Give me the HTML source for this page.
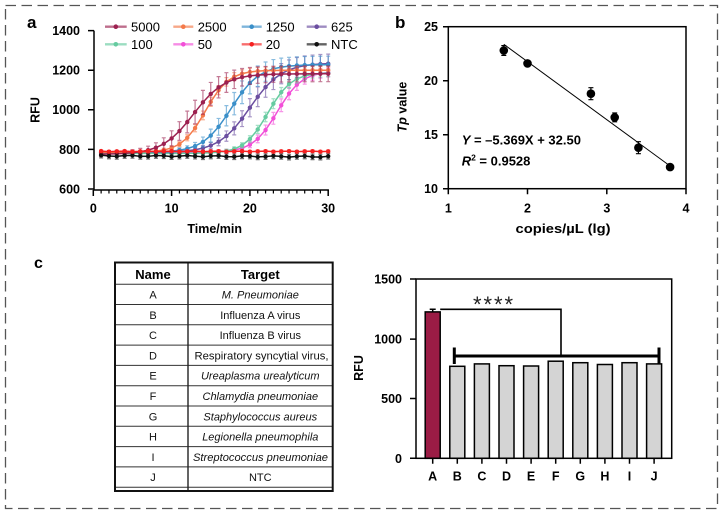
<!DOCTYPE html>
<html><head><meta charset="utf-8"><style>
html,body{margin:0;padding:0;background:#fff;}
svg{display:block;font-family:"Liberation Sans",Arial,sans-serif;}
.b{font-weight:bold;}
</style></head><body>
<svg id="s" width="725" height="514" viewBox="0 0 725 514" xmlns="http://www.w3.org/2000/svg">
<rect x="5.5" y="5.5" width="712" height="503" fill="none" stroke="#555" stroke-width="1.3" stroke-dasharray="10.5 5.5"/>

<!-- Panel a -->
<text x="27" y="28" font-size="17" class="b">a</text>
<g stroke="#000" stroke-width="1.5" fill="none">
<path d="M94 30.6V190M93.3 190H328.9"/>
<path d="M88 30.6H94M88 70.2H94M88 109.8H94M88 149.4H94M88 189H94"/>
<path d="M93.3 190v6M171.6 190v6M249.9 190v6M328.2 190v6"/>
<path stroke-width="1.2" d="M101.13 190v3.5M108.96 190v3.5M116.79 190v3.5M124.62 190v3.5M132.45 190v3.5M140.28 190v3.5M148.11 190v3.5M155.94 190v3.5M163.77 190v3.5M179.43 190v3.5M187.26 190v3.5M195.09 190v3.5M202.92 190v3.5M210.75 190v3.5M218.58 190v3.5M226.41 190v3.5M234.24 190v3.5M242.07 190v3.5M257.73 190v3.5M265.56 190v3.5M273.39 190v3.5M281.22 190v3.5M289.05 190v3.5M296.88 190v3.5M304.71 190v3.5M312.54 190v3.5M320.37 190v3.5"/>
</g>
<g font-size="12.5" class="b" text-anchor="end">
<text x="80" y="35">1400</text><text x="80" y="74.6">1200</text><text x="80" y="114.2">1000</text><text x="80" y="153.8">800</text><text x="80" y="193.4">600</text>
</g>
<g font-size="12.5" class="b" text-anchor="middle">
<text x="93.3" y="212.5">0</text><text x="171.6" y="212.5">10</text><text x="249.9" y="212.5">20</text><text x="328.2" y="212.5">30</text>
<text x="214.7" y="233">Time/min</text>
<text transform="translate(39.5 110) rotate(-90)">RFU</text>
</g>
<g id="curves"></g>
<!-- legend -->
<g stroke-width="2.4" opacity="0.65">
<line x1="105" y1="26.7" x2="126.7" y2="26.7" stroke="#9c2150"/>
<line x1="173.3" y1="26.7" x2="193.3" y2="26.7" stroke="#f47a4a"/>
<line x1="241.7" y1="26.7" x2="261.7" y2="26.7" stroke="#3a8fc9"/>
<line x1="306.7" y1="26.7" x2="326.7" y2="26.7" stroke="#6b4ea0"/>
<line x1="105" y1="44.3" x2="126.7" y2="44.3" stroke="#66cba0"/>
<line x1="173.3" y1="44.3" x2="193.3" y2="44.3" stroke="#f24fd8"/>
<line x1="241.7" y1="44.3" x2="261.7" y2="44.3" stroke="#f52020"/>
<line x1="306.7" y1="44.3" x2="326.7" y2="44.3" stroke="#111"/>
</g>
<g>
<circle cx="115.8" cy="26.7" r="2.3" fill="#9c2150"/>
<circle cx="183.3" cy="26.7" r="2.3" fill="#f47a4a"/>
<circle cx="251.7" cy="26.7" r="2.3" fill="#3a8fc9"/>
<circle cx="316.7" cy="26.7" r="2.3" fill="#6b4ea0"/>
<circle cx="115.8" cy="44.3" r="2.3" fill="#66cba0"/>
<circle cx="183.3" cy="44.3" r="2.3" fill="#f24fd8"/>
<circle cx="251.7" cy="44.3" r="2.3" fill="#f52020"/>
<circle cx="316.7" cy="44.3" r="2.3" fill="#111"/>
</g>
<g font-size="13">
<text x="131" y="31.4">5000</text><text x="197.7" y="31.4">2500</text><text x="265.7" y="31.4">1250</text><text x="331" y="31.4">625</text>
<text x="131" y="49">100</text><text x="197.7" y="49">50</text><text x="265.7" y="49">20</text><text x="331" y="49">NTC</text>
</g>

<!-- Panel b -->
<text x="395" y="28" font-size="17" class="b">b</text>
<rect x="448.3" y="26.7" width="237.7" height="162" fill="none" stroke="#000" stroke-width="1.5"/>
<g stroke="#000" stroke-width="1.5">
<path d="M443 26.7H448.3M443 80.7H448.3M443 134.7H448.3M443 188.7H448.3"/>
<path d="M448.3 188.7v5.5M527.5 188.7v5.5M606.8 188.7v5.5M686 188.7v5.5"/>
</g>
<g font-size="12.5" class="b" text-anchor="end">
<text x="438" y="31.2">25</text><text x="438" y="85.2">20</text><text x="438" y="139.2">15</text><text x="438" y="193.2">10</text>
</g>
<g font-size="12.5" class="b" text-anchor="middle">
<text x="448.3" y="212.5">1</text><text x="527.5" y="212.5">2</text><text x="606.8" y="212.5">3</text><text x="686" y="212.5">4</text>
<text x="563" y="233" textLength="95" lengthAdjust="spacingAndGlyphs">copies/µL (lg)</text>
<text transform="translate(406.5 107) rotate(-90)"><tspan font-style="italic">Tp</tspan> value</text>
</g>
<line x1="503.8" y1="44.3" x2="670.1" y2="166" stroke="#000" stroke-width="1"/>
<g stroke="#000" stroke-width="1.2" fill="none">
<path d="M503.8 45.6v9.8M501.3 45.6h5M501.3 55.4h5"/>
<path d="M527.5 61.2v4.4M525 61.2h5M525 65.6h5"/>
<path d="M590.9 87.7v12M588.4 87.7h5M588.4 99.7h5"/>
<path d="M614.7 113v8.8M612.2 113h5M612.2 121.8h5"/>
<path d="M638.4 141.7v12M635.9 141.7h5M635.9 153.7h5"/>
<path d="M670.1 164.4v5.4M667.6 164.4h5M667.6 169.8h5"/>
</g>
<g fill="#000">
<circle cx="503.8" cy="50.5" r="4.3"/><circle cx="527.5" cy="63.4" r="4.3"/><circle cx="590.9" cy="93.7" r="4.3"/>
<circle cx="614.7" cy="117.4" r="4.3"/><circle cx="638.4" cy="147.7" r="4.3"/><circle cx="670.1" cy="167.1" r="4.3"/>
</g>
<text x="461.7" y="144.5" font-size="13" class="b"><tspan font-style="italic">Y</tspan> = –5.369X + 32.50</text>
<text x="461.7" y="165.5" font-size="13" class="b"><tspan font-style="italic">R</tspan><tspan font-size="8.5" dy="-5">2</tspan><tspan dy="5"> = 0.9528</tspan></text>

<!-- Panel c -->
<text x="34" y="268" font-size="16" class="b">c</text>
<!-- table -->
<g stroke="#333" stroke-width="1" fill="none">
<path d="M115 284.3H332.7M115 304.5H332.7M115 324.8H332.7M115 345.1H332.7M115 365.4H332.7M115 385.7H332.7M115 406H332.7M115 426.3H332.7M115 446.6H332.7M115 466.9H332.7M115 487.2H332.7"/>
</g>
<line x1="188" y1="262.5" x2="188" y2="491" stroke="#222" stroke-width="1.4"/>
<rect x="115" y="262.5" width="217.7" height="228.5" fill="none" stroke="#111" stroke-width="2"/>
<g font-size="13" class="b" text-anchor="middle">
<text x="153" y="279">Name</text><text x="260.3" y="279">Target</text>
</g>
<g font-size="11" text-anchor="middle" fill="#111">
<text x="153" y="298.5">A</text><text x="153" y="318.8">B</text><text x="153" y="339.1">C</text><text x="153" y="359.4">D</text><text x="153" y="379.7">E</text>
<text x="153" y="400">F</text><text x="153" y="420.3">G</text><text x="153" y="440.6">H</text><text x="153" y="460.9">I</text><text x="153" y="481.2">J</text>
<text x="260.3" y="298.5" font-style="italic">M. Pneumoniae</text>
<text x="260.3" y="318.8">Influenza A virus</text>
<text x="260.3" y="339.1">Influenza B virus</text>
<text x="261.5" y="359.4" textLength="134" lengthAdjust="spacingAndGlyphs">Respiratory syncytial virus,</text>
<text x="260.3" y="379.7" font-style="italic">Ureaplasma urealyticum</text>
<text x="260.3" y="400" font-style="italic">Chlamydia pneumoniae</text>
<text x="260.3" y="420.3" font-style="italic">Staphylococcus aureus</text>
<text x="260.3" y="440.6" font-style="italic">Legionella pneumophila</text>
<text x="260.5" y="460.9" font-style="italic" textLength="135" lengthAdjust="spacingAndGlyphs">Streptococcus pneumoniae</text>
<text x="260.3" y="481.2">NTC</text>
</g>

<!-- bar chart -->
<g stroke="#000" stroke-width="1.5">
<rect x="425.2" y="311.9" width="15" height="146.4" fill="#9b1c45"/>
<g fill="#d4d4d4">
<rect x="449.8" y="366.3" width="15" height="92"/>
<rect x="474.4" y="363.9" width="15" height="94.4"/>
<rect x="499" y="365.7" width="15" height="92.6"/>
<rect x="523.6" y="366" width="15" height="92.3"/>
<rect x="548.2" y="361.2" width="15" height="97.1"/>
<rect x="572.8" y="362.7" width="15" height="95.6"/>
<rect x="597.4" y="364.5" width="15" height="93.8"/>
<rect x="622" y="362.7" width="15" height="95.6"/>
<rect x="646.6" y="363.9" width="15" height="94.4"/>
</g>
</g>
<rect x="416" y="279" width="255.7" height="179.3" fill="none" stroke="#000" stroke-width="1.5"/>
<g stroke="#000" stroke-width="1.5">
<path d="M410 279H416M410 339.1H416M410 398.5H416M410 458.3H416"/>
<path d="M432.7 458.3v5.5M457.3 458.3v5.5M481.9 458.3v5.5M506.5 458.3v5.5M531.1 458.3v5.5M555.7 458.3v5.5M580.3 458.3v5.5M604.9 458.3v5.5M629.5 458.3v5.5M654.1 458.3v5.5"/>
<path d="M432.7 309.3v3M429.7 309.3h6"/>
<path d="M440.2 309.3H561V355" fill="none" stroke-width="1.6"/>
</g>
<g stroke="#000" stroke-width="3">
<path d="M454.3 356H659M454.3 347.5V364M659 347.5V364" fill="none"/>
</g>
<g font-size="12.5" class="b" text-anchor="end">
<text x="402" y="283.5">1500</text><text x="402" y="343.6">1000</text><text x="402" y="403">500</text><text x="402" y="462.8">0</text>
</g>
<text transform="translate(363 368) rotate(-90)" font-size="12.5" class="b" text-anchor="middle">RFU</text>
<g font-size="12.5" class="b" text-anchor="middle">
<text x="432.7" y="480.5">A</text><text x="457.3" y="480.5">B</text><text x="481.9" y="480.5">C</text><text x="506.5" y="480.5">D</text><text x="531.1" y="480.5">E</text>
<text x="555.7" y="480.5">F</text><text x="580.3" y="480.5">G</text><text x="604.9" y="480.5">H</text><text x="629.5" y="480.5">I</text><text x="654.1" y="480.5">J</text>
</g>
<text x="473" y="312" font-size="22" textLength="40" lengthAdjust="spacing" fill="#222">****</text>
</svg>
<script>
(function(){
var NS="http://www.w3.org/2000/svg";
var g=document.getElementById("curves");
function X(t){return 93.3+7.83*t;}
function Y(v){return 189-(v-600)*0.198;}
var S=[
["#f24fd8",785,1195,23.5,1.55,20,14,8],
["#66cba0",780,1188,22.3,1.5,14,10,8],
["#6b4ea0",785,1236,20.0,2.0,28,40,8],
["#3a8fc9",785,1228,17.6,1.8,38,35,8],
["#f47a4a",785,1200,14.3,1.5,12,10,8],
["#9c2150",775,1182,12.8,2.0,40,28,12],
["#111111",768,768,0,1,0,0,14],
["#f52020",790,790,0,1,0,0,6]
];
function el(n,a){
  var e=document.createElementNS(NS,n);
  for(var k in a){e.setAttribute(k,a[k]);}
  g.appendChild(e);
  return e;
}
for(var si=0;si<S.length;si++){
  var s=S[si];
  var pts=[];
  var d="";
  var eb="";
  var flat=(s[1]===s[2]);
  for(var t=1;t<=30;t++){
    var p=flat?0:1/(1+Math.exp(-(t-s[3])/s[4]));
    var v=s[1]+(s[2]-s[1])*p;
    if(flat){
      if(si===6){v+=-0.15*t+Math.sin(t*1.7)*3;}
      else{v+=Math.sin(t*2.1)*1.5;}
    }
    var e=s[7]+s[5]*4*p*(1-p)+s[6]*p*p;
    var x=X(t),y=Y(v),e1=Y(v+e),e2=Y(v-e);
    pts.push([x,y]);
    d+=(t===1?"M":"L")+x.toFixed(2)+" "+y.toFixed(2);
    eb+="M"+x.toFixed(2)+" "+e1.toFixed(2)+"V"+e2.toFixed(2)+"M"+(x-2).toFixed(2)+" "+e1.toFixed(2)+"h4M"+(x-2).toFixed(2)+" "+e2.toFixed(2)+"h4";
  }
  el("path",{"d":eb,"stroke":s[0],"stroke-width":"1.2","fill":"none","opacity":"0.6"});
  el("path",{"d":d,"stroke":s[0],"stroke-width":"1.5","fill":"none"});
  for(var i=0;i<pts.length;i++){
    el("circle",{"cx":pts[i][0].toFixed(2),"cy":pts[i][1].toFixed(2),"r":"2.2","fill":s[0]});
  }
}
})();
</script>
</body></html>
